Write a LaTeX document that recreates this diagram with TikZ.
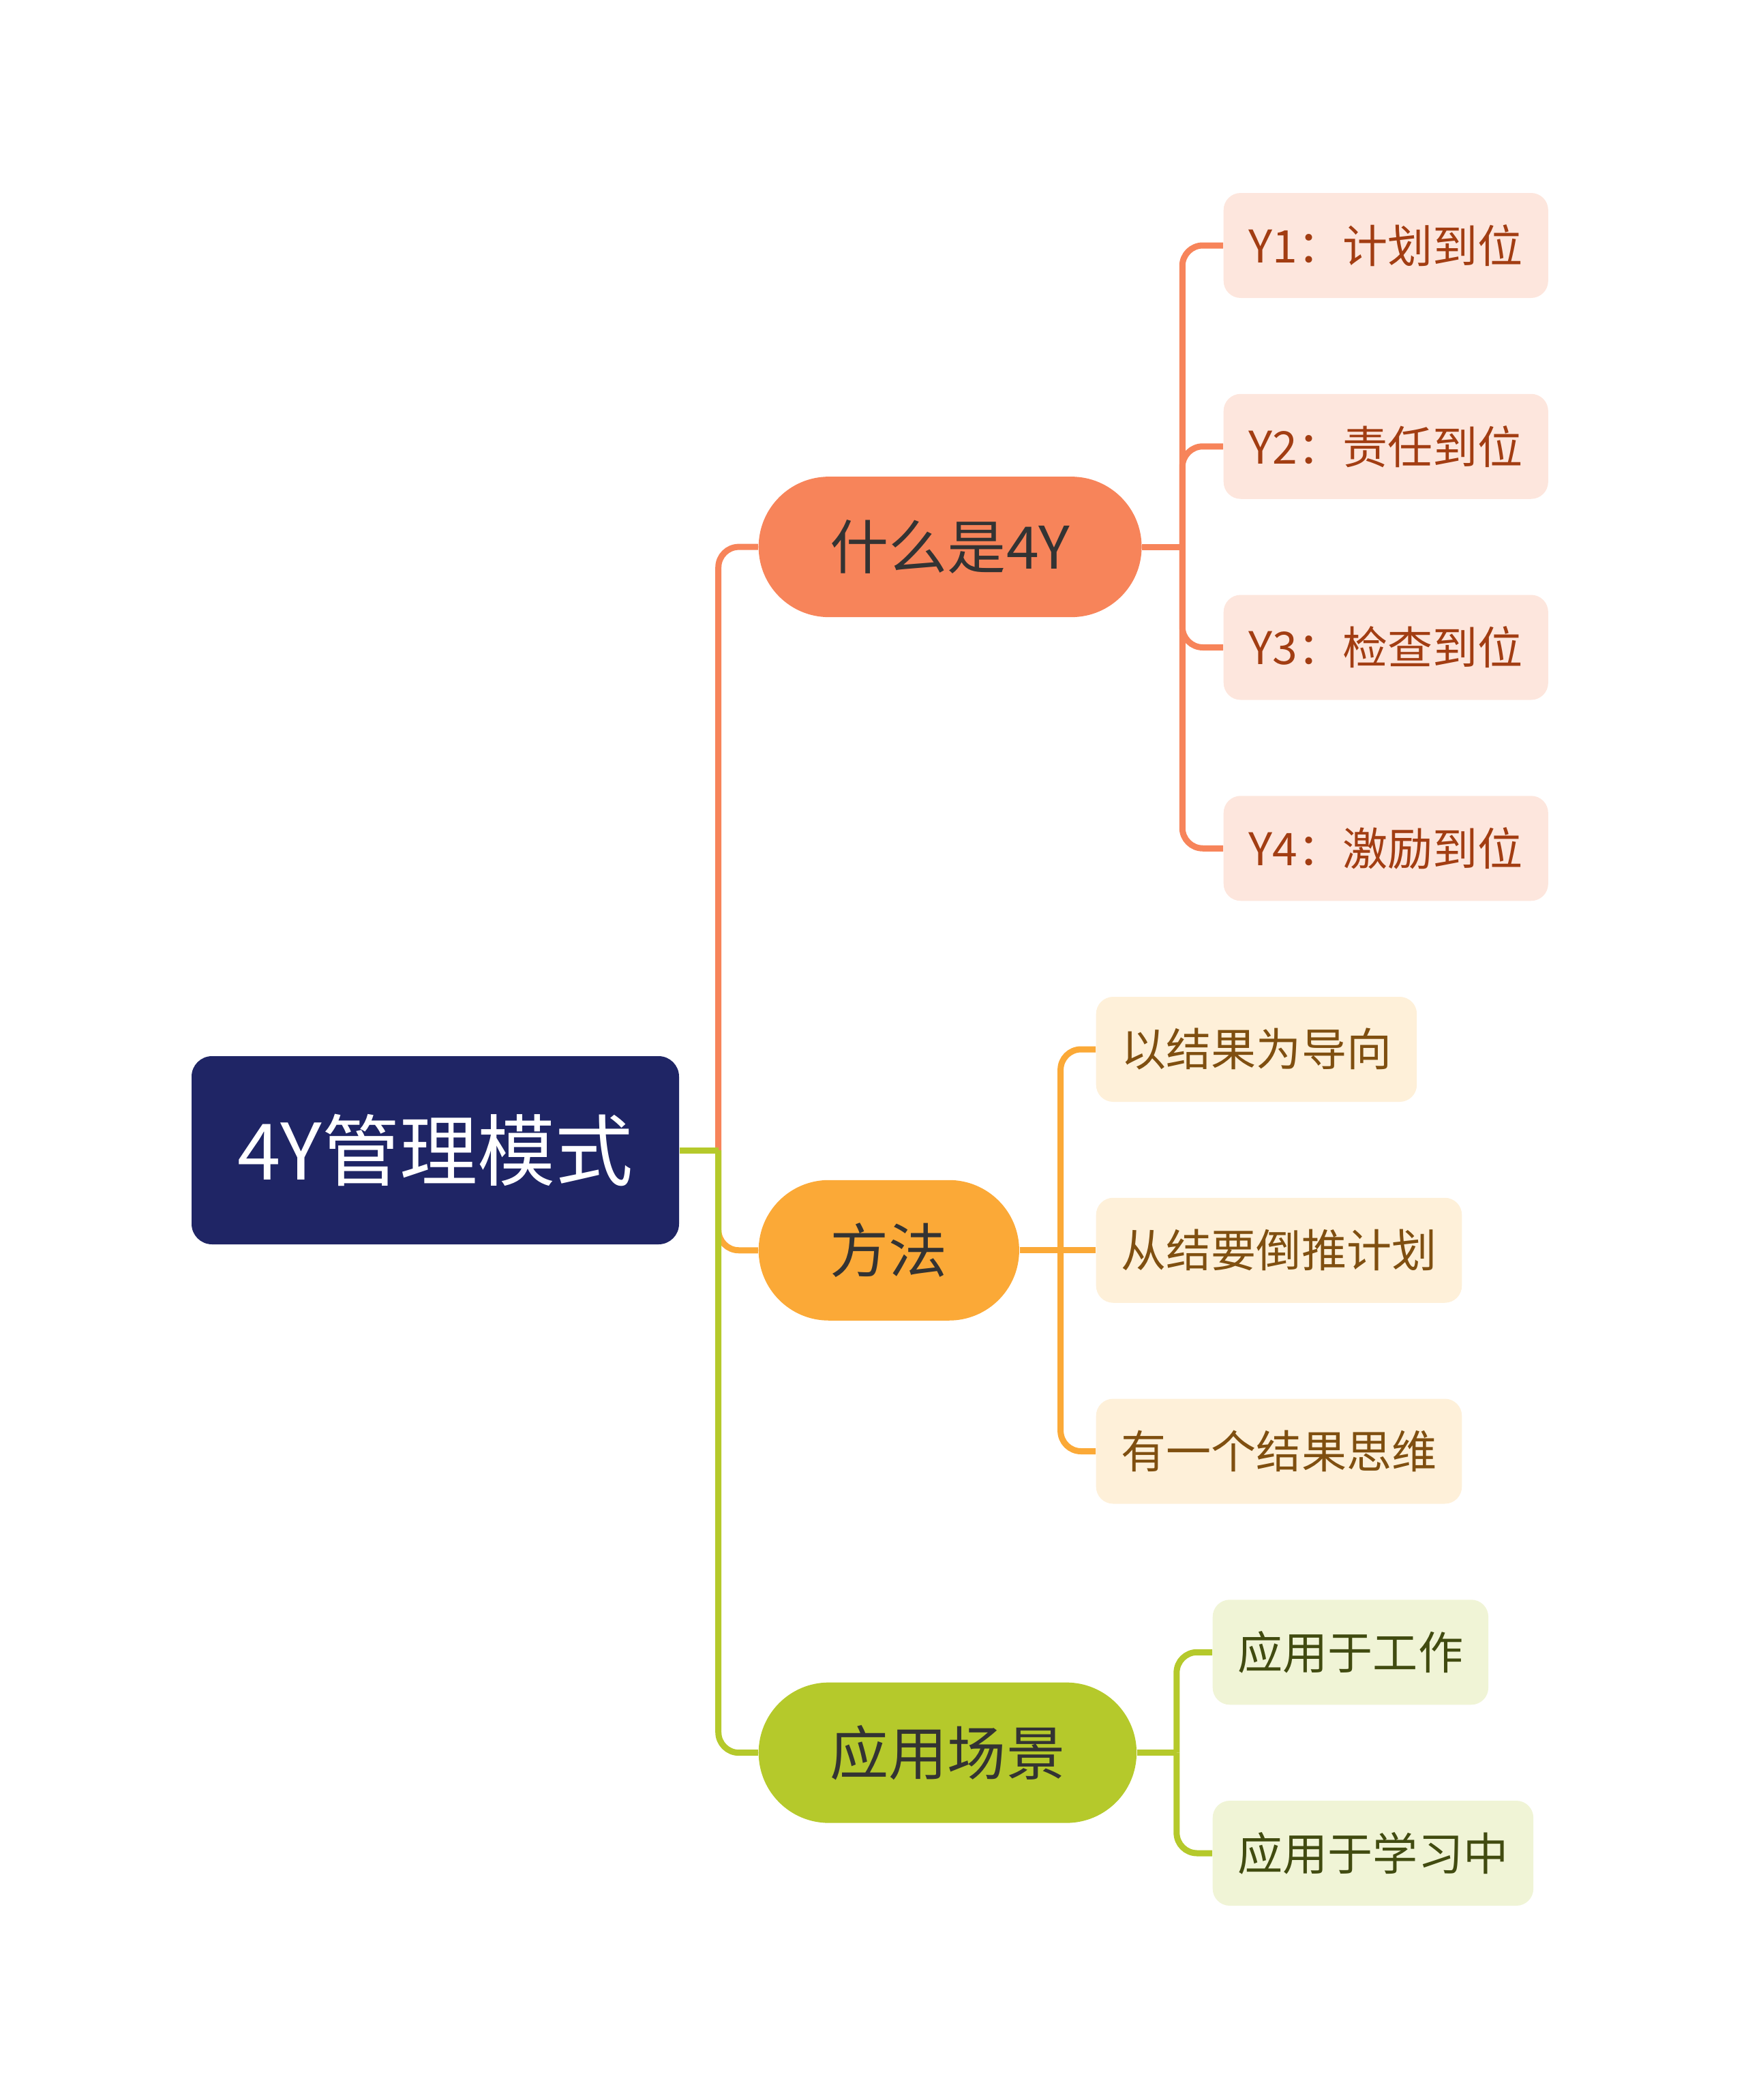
\documentclass[tikz,border=0pt]{standalone}
\usepackage{fontspec}
\setmainfont{Noto Sans CJK SC}
\usepackage{tikz}
\usetikzlibrary{calc}

\definecolor{rootblue}{RGB}{31,37,101}
\definecolor{coral}{RGB}{247,132,90}
\definecolor{amber}{RGB}{251,169,55}
\definecolor{olive}{RGB}{181,201,43}
\definecolor{coralleaf}{RGB}{253,230,221}
\definecolor{amberleaf}{RGB}{254,240,217}
\definecolor{oliveleaf}{RGB}{240,244,214}
\definecolor{coraltext}{RGB}{162,61,18}
\definecolor{ambertext}{RGB}{127,79,16}
\definecolor{olivetext}{RGB}{65,75,16}
\definecolor{topictext}{RGB}{51,51,51}

\tikzstyle{rootbox}=[rectangle,rounded corners=0.3cm,fill=rootblue,text=white,
                     minimum width=7.15cm,minimum height=2.76cm,
                     font=\fontsize{32.5pt}{38pt}\selectfont]
\tikzstyle{topicbox}=[rectangle,rounded corners=1.03cm,minimum height=2.06cm,
                      inner xsep=1.05cm,text=topictext,anchor=west,
                      font=\fontsize{24.5pt}{28pt}\selectfont]
\tikzstyle{leafbox}=[rectangle,rounded corners=0.25cm,minimum height=1.54cm,
                     inner xsep=0.37cm,anchor=west,
                     font=\fontsize{18.8pt}{22pt}\selectfont]
\tikzstyle{wire}=[line width=0.09cm,rounded corners=0.3cm]
\newcommand\rowtop{-3.60}
\newcommand\rowgap{-2.9475}

\begin{document}
\begin{tikzpicture}
    \useasboundingbox (0,0) rectangle (25.6,-30.8);

    % root and main topics
    \node [rootbox] (root) at (6.385,-16.87) {4Y管理模式};
    \node [topicbox,fill=coral] (what) at ($(11.12,\rowtop+\rowgap*1.5)$) {什么是4Y};
    \node [topicbox,fill=amber] (method) at ($(11.12,\rowtop+\rowgap*5)$) {方法};
    \node [topicbox,fill=olive] (usage) at ($(11.12,\rowtop+\rowgap*7.5)$) {应用场景};

    % leaves
    \node [leafbox,fill=coralleaf,text=coraltext] (y1) at ($(17.94,\rowtop+\rowgap*0)$) {Y1：计划到位};
    \node [leafbox,fill=coralleaf,text=coraltext] (y2) at ($(17.94,\rowtop+\rowgap*1)$) {Y2：责任到位};
    \node [leafbox,fill=coralleaf,text=coraltext] (y3) at ($(17.94,\rowtop+\rowgap*2)$) {Y3：检查到位};
    \node [leafbox,fill=coralleaf,text=coraltext] (y4) at ($(17.94,\rowtop+\rowgap*3)$) {Y4：激励到位};
    \node [leafbox,fill=amberleaf,text=ambertext] (m1) at ($(16.07,\rowtop+\rowgap*4)$) {以结果为导向};
    \node [leafbox,fill=amberleaf,text=ambertext] (m2) at ($(16.07,\rowtop+\rowgap*5)$) {从结要倒推计划};
    \node [leafbox,fill=amberleaf,text=ambertext] (m3) at ($(16.07,\rowtop+\rowgap*6)$) {有一个结果思维};
    \node [leafbox,fill=oliveleaf,text=olivetext] (u1) at ($(17.78,\rowtop+\rowgap*7)$) {应用于工作};
    \node [leafbox,fill=oliveleaf,text=olivetext] (u2) at ($(17.78,\rowtop+\rowgap*8)$) {应用于学习中};

    % hubs where the branches split
    \coordinate (roothub) at ($(root.east)+(0.57,0)$);
    \coordinate (whathub) at ($(what.east)+(0.59,0)$);
    \coordinate (methodhub) at ($(method.east)+(0.6,0)$);
    \coordinate (usagehub) at ($(usage.east)+(0.58,0)$);

    % connectors
    \draw [wire,coral] (roothub) |- (what.west);
    \draw [wire,amber] (roothub) |- (method.west);
    \draw [wire,olive] (roothub) |- (usage.west);
    \draw [wire,olive] (root.east) -- (roothub);
    \draw [wire,coral] (what.east) -- (whathub);
    \foreach \leaf in {y1,y2,y3,y4}
        \draw [wire,coral] (whathub) |- (\leaf.west);
    \draw [wire,amber] (method.east) -- (m2.west);
    \foreach \leaf in {m1,m3}
        \draw [wire,amber] (methodhub) |- (\leaf.west);
    \draw [wire,olive] (usage.east) -- (usagehub);
    \foreach \leaf in {u1,u2}
        \draw [wire,olive] (usagehub) |- (\leaf.west);
\end{tikzpicture}
\end{document}
